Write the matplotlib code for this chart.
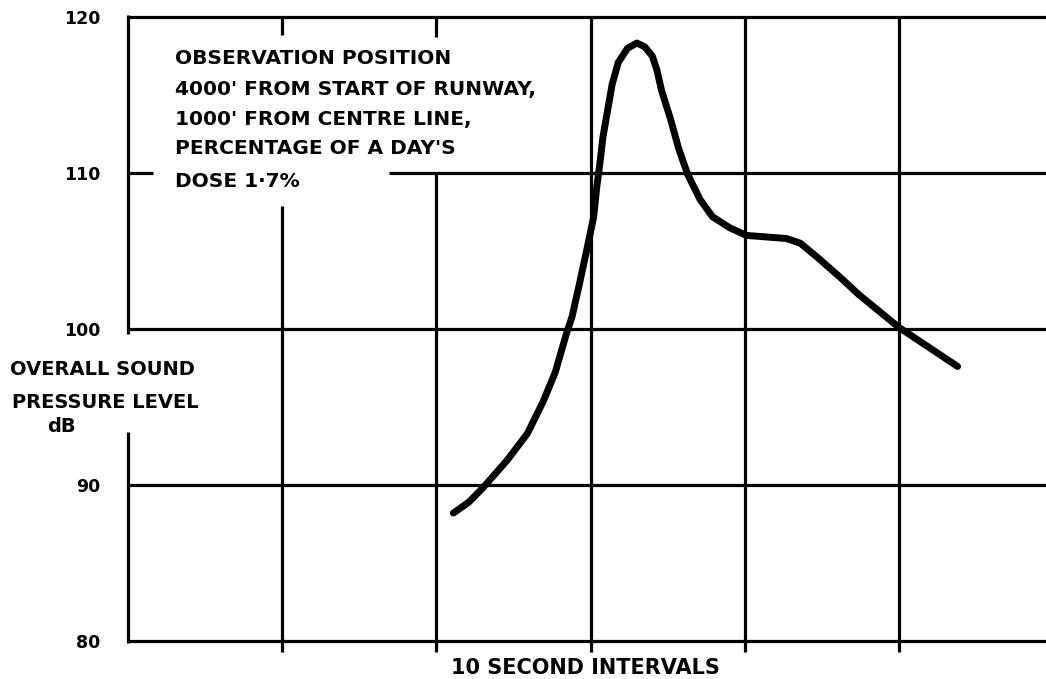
import matplotlib
matplotlib.use("Agg")
import matplotlib.pyplot as plt

# ---- data ----
time_s = [21.1, 22.1, 23.0, 24.6, 25.9, 26.9, 27.7, 28.4, 28.8, 29.3, 29.8,
          30.2, 30.4, 30.6, 30.8, 31.1, 31.4, 31.8, 32.4, 33.0, 33.5, 34.0,
          34.3, 34.6, 35.2, 35.7, 36.3, 37.1, 37.9, 39.0, 40.1, 41.4, 42.7,
          43.6, 44.7, 46.2, 47.4, 50.0, 53.8]
spl_db = [88.2, 88.9, 89.8, 91.6, 93.3, 95.3, 97.2, 99.6, 100.8, 103.0, 105.3,
          107.2, 109.1, 110.6, 112.3, 114.0, 115.7, 117.1, 118.0, 118.33, 118.1, 117.5,
          116.6, 115.3, 113.4, 111.6, 109.9, 108.3, 107.2, 106.5, 106.0, 105.9, 105.8,
          105.5, 104.6, 103.3, 102.2, 100.1, 97.6]
y_ticks = [80, 90, 100, 110, 120]
y_tick_labels = ["80", "90", "100", "110", "120"]
x_grid = [10, 20, 30, 40, 50]
note_lines = ["OBSERVATION POSITION",
              "4000' FROM START OF RUNWAY,",
              "1000' FROM CENTRE LINE,",
              "PERCENTAGE OF A DAY'S",
              "DOSE 1\u00b77%"]
x_label = "10 SECOND INTERVALS"
y_label_lines = ["OVERALL SOUND", "PRESSURE LEVEL", "dB"]

W, H = 1046, 679
fig = plt.figure(figsize=(W / 100, H / 100), dpi=100)
plt.rcParams['font.family'] = ['DejaVu Sans']

def fx(px):
    return px / W

def fy(py):
    return 1 - py / H

left, right, top, bottom = 128, 1046, 17, 641
ax = fig.add_axes([fx(left), fy(bottom), fx(right) - fx(left), fy(top) - fy(bottom)])
ax.set_xlim(0, (right - left) / 15.42)
ax.set_ylim(80, 120)
for s in ax.spines.values():
    s.set_visible(False)

lw_grid = 2.3
kw = dict(color="black", lw=lw_grid, solid_capstyle="butt", clip_on=False, zorder=2)
xmax = ax.get_xlim()[1]
# horizontal lines
for yv in y_ticks:
    if yv == 110:
        ax.plot([0, 1.6], [yv, yv], **kw)
        ax.plot([16.9, xmax], [yv, yv], **kw)
    else:
        ax.plot([0, xmax], [yv, yv], **kw)
# left axis with gap for y label
ax.plot([0, 0], [120.1, 99.7], **kw)
ax.plot([0, 0], [93.4, 79.9], **kw)
# vertical grid lines (with gaps behind the note) and ticks below
for xv in x_grid:
    if xv == 10:
        ax.plot([xv, xv], [120, 118.85], **kw)
        ax.plot([xv, xv], [107.9, 79.3], **kw)
    elif xv == 20:
        ax.plot([xv, xv], [120, 118.7], **kw)
        ax.plot([xv, xv], [110.0, 79.3], **kw)
    else:
        ax.plot([xv, xv], [120, 79.3], **kw)

ax.set_xticks([])
ax.set_yticks(y_ticks)
ax.set_yticklabels(y_tick_labels, fontsize=12.5, fontweight="bold")
ax.tick_params(axis="y", length=0, pad=20)

# curve
ax.plot(time_s, spl_db, color="black", lw=5, solid_capstyle="round",
        solid_joinstyle="round", zorder=3)

# note
note_y = [59, 89, 119, 148, 182]
for txt, py in zip(note_lines, note_y):
    fig.text(fx(175), fy(py), txt, fontsize=14.5, fontweight="bold",
             ha="left", va="center")

# axis labels
fig.text(fx(10), fy(370), y_label_lines[0], fontsize=14, fontweight="bold", ha="left", va="center")
fig.text(fx(12), fy(402), y_label_lines[1], fontsize=14, fontweight="bold", ha="left", va="center")
fig.text(fx(61), fy(426), y_label_lines[2], fontsize=14, fontweight="bold", ha="center", va="center")
fig.text(fx(585), fy(668), x_label, fontsize=15, fontweight="bold", ha="center", va="center")

fig.savefig("out.png", dpi=100, facecolor="white")
